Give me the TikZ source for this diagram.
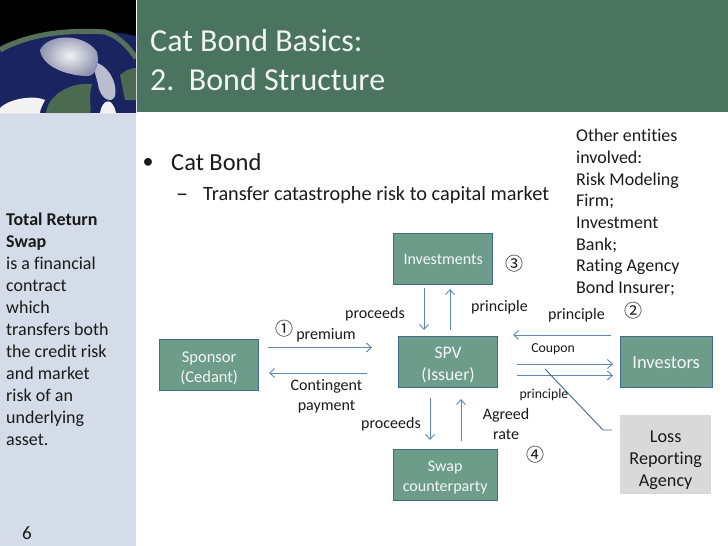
\documentclass[tikz,border=0pt]{standalone}
\usepackage{fontspec}
\setmainfont[Ligatures={NoCommon}]{Carlito}
\newfontfamily\symf{Noto Sans CJK SC}
\usetikzlibrary{arrows.meta,shadings}
\definecolor{hdr}{HTML}{4A7360}
\definecolor{panel}{HTML}{D3DCE8}
\definecolor{boxf}{HTML}{6E9C8A}
\definecolor{boxd}{HTML}{3F6C8C}
\definecolor{arr}{HTML}{5B88B5}
\definecolor{txt}{HTML}{1A1A1A}
\definecolor{sea}{HTML}{1A2460}
\definecolor{rim}{HTML}{56705A}
\definecolor{land}{HTML}{4C6A50}
\tikzset{
 bx/.style={draw=boxd,line width=1.3pt,fill=boxf,text=white!92!boxf,align=center,inner sep=0pt,anchor=north west,font=\fontsize{16}{20}\selectfont},
 gbx/.style={fill=black!15,text=txt,align=center,inner sep=0pt,anchor=north west,font=\fontsize{18.2}{22}\selectfont},
 conn/.style={draw=arr,line width=0.9pt,-{Straight Barb[length=5pt,width=9pt]}},
 lbl/.style={text=txt,font=\fontsize{16}{20}\selectfont,inner sep=0pt,align=center},
 num/.style={text=txt,font=\symf\fontsize{18}{18}\selectfont,inner sep=0pt},
 side/.style={text=txt,anchor=north west,inner sep=0pt,align=left,font=\fontsize{18}{22}\selectfont},
}
\begin{document}
\begin{tikzpicture}[x=1pt,y=-1pt]
\useasboundingbox (0,0) rectangle (728,546);
\fill[white] (0,0) rectangle (728,546);
% satellite image
\begin{scope}
\clip (0,0) rectangle (136,113);
\fill[black] (0,0) rectangle (136,113);
\fill[sea] (0,46) .. controls (30,32) and (80,24) .. (136,36) -- (136,113) -- (0,113) -- cycle;
\draw[rim,line width=5pt] (0,50) .. controls (25,36) and (60,29) .. (105,32) .. controls (118,36) and (128,46) .. (136,58);
\fill[land] (46,113) .. controls (48,95) and (70,82) .. (92,84) .. controls (88,98) and (92,108) .. (90,113) -- cycle;
\fill[land] (120,75) .. controls (128,68) and (134,68) .. (136,68) -- (136,100) -- (125,100) -- cycle;
\fill[white!70!sea] (92,62) .. controls (105,62) and (118,80) .. (115,96) .. controls (112,104) and (100,100) .. (98,84) -- cycle;
\shade[inner color=white!90!gray,outer color=white!50!sea] (40,50) .. controls (48,33) and (85,33) .. (97,52) .. controls (100,65) and (95,78) .. (85,76) .. controls (65,75) and (42,66) .. (40,50) -- cycle;
\fill[white!55!gray] (70,45) circle (2pt);
\fill[white!90!gray] (0,108) .. controls (10,98) and (35,95) .. (45,100) .. controls (42,106) and (40,110) .. (40,113) -- (0,113) -- cycle;
\fill[white!90!gray] (100,113) .. controls (102,100) and (112,95) .. (116,113) -- cycle;
\end{scope}
% header and side panel
\fill[hdr] (137,0) rectangle (728,112);
\fill[panel] (0,114) rectangle (136,546);
\node[anchor=west,inner sep=0pt,text=white!92!hdr,font=\fontsize{32}{39}\selectfont,align=left] (title) at (150,60) {Cat Bond Basics:\\2.\ \ Bond Structure};
% side text
\node[side] (sidetext) at (6,212.5) {\textbf{Total Return}\\\textbf{Swap}\\is a financial\\contract\\which\\transfers both\\the credit risk\\and market\\risk of an\\underlying\\asset.};
\node[text=txt,anchor=west,inner sep=0pt,font=\fontsize{19}{20}\selectfont] (pg) at (22,533) {6};
% bullets
\node[text=txt,anchor=west,inner sep=0pt,font=\fontsize{24.5}{26}\selectfont] (b1) at (171,162) {Cat Bond};
\node[text=txt,anchor=center,inner sep=0pt,font=\fontsize{22}{24}\selectfont] (b1m) at (148,163) {•};
\node[text=txt,anchor=west,inner sep=0pt,font=\fontsize{20.3}{24}\selectfont] (b2) at (203,195) {Transfer catastrophe risk to capital market};
\node[text=txt,anchor=west,inner sep=0pt,font=\fontsize{24}{24}\selectfont] (b2m) at (176,198) {–};
% other entities
\node[text=txt,anchor=north west,inner sep=0pt,align=left,font=\fontsize{18}{21.7}\selectfont] (other) at (576,129) {Other entities\\involved:\\Risk Modeling\\Firm;\\Investment\\Bank;\\Rating Agency\\Bond Insurer;};
% boxes
\node[bx,minimum width=99pt,minimum height=51pt,font=\fontsize{16.5}{20}\selectfont,text depth=0pt] (sponsor) at (159,339) {\rule{0pt}{15pt}Sponsor\\(Cedant)};
\node[bx,minimum width=99pt,minimum height=51pt] (invest) at (393,233) {Investments};
\node[bx,minimum width=99pt,minimum height=51pt,font=\fontsize{17.7}{22}\selectfont] (spv) at (398,336) {\rule{0pt}{18pt}SPV\\(Issuer)};
\node[bx,minimum width=92pt,minimum height=51pt,font=\fontsize{18.5}{22}\selectfont] (investors) at (619.5,336) {Investors};
\node[bx,minimum width=104pt,minimum height=51pt] (swap) at (392.5,449) {\rule{0pt}{15pt}Swap\\counterparty};
\node[gbx,minimum width=91pt,minimum height=79pt] (loss) at (620,415) {\rule{0pt}{22pt}Loss\\Reporting\\Agency};
% connector end points
\coordinate (spL1) at (268,347.5); \coordinate (spR1) at (372,347.5);
\coordinate (spR2) at (367,373); \coordinate (spL2) at (269,373);
\coordinate (iA) at (424,288); \coordinate (iB) at (424,330);
\coordinate (iC) at (450,330); \coordinate (iD) at (450,289);
\coordinate (vA) at (611,335); \coordinate (vB) at (513,335);
\coordinate (vC) at (517,364); \coordinate (vD) at (613,364);
\coordinate (vE) at (517,375.5); \coordinate (vF) at (613,375.5);
\coordinate (sA) at (430,398); \coordinate (sB) at (430,440);
\coordinate (sC) at (461,441); \coordinate (sD) at (461,399);
\coordinate (lA) at (612,430); \coordinate (lB) at (603,430); \coordinate (lC) at (545,369);
% connectors
\draw[conn] (spL1) -- (spR1);
\draw[conn] (spR2) -- (spL2);
\draw[conn] (iA) -- (iB);
\draw[conn] (iC) -- (iD);
\draw[conn] (vA) -- (vB);
\draw[conn] (vC) -- (vD);
\draw[conn] (vE) -- (vF);
\draw[conn] (sA) -- (sB);
\draw[conn] (sC) -- (sD);
\draw[draw=boxd,line width=0.9pt] (lA) -- (lB) -- (lC);
% labels
\node[lbl] (l1) at (375,314) {proceeds};
\node[lbl] (l2) at (326,335) {premium};
\node[lbl] (l3) at (326.5,396.5) {Contingent\\payment};
\node[lbl] (l4) at (391,424) {proceeds};
\node[lbl] (l5) at (499.5,307) {principle};
\node[lbl] (l6) at (576.5,315) {principle};
\node[lbl,font=\fontsize{13.75}{16}\selectfont] (l7) at (553,349) {Coupon};
\node[lbl,font=\fontsize{13.75}{16}\selectfont] (l8) at (544,395) {principle};
\node[lbl] (l9) at (506,423.5) {Agreed\\rate};
\node[num] (n1) at (284,329) {①};
\node[num] (n2) at (633,311) {②};
\node[num] (n3) at (514,264) {③};
\node[num] (n4) at (535,455) {④};
\end{tikzpicture}
\end{document}
